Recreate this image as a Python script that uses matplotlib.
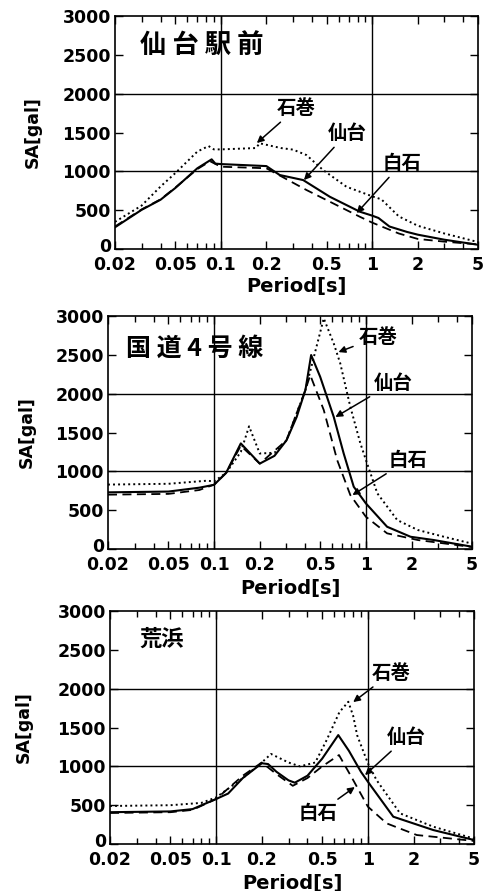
import numpy as np
import matplotlib
matplotlib.use("Agg")
import matplotlib.pyplot as plt
import matplotlib.transforms as mtransforms
from matplotlib.ticker import FixedLocator, FixedFormatter, LogLocator, NullFormatter

plt.rcParams['font.family'] = ['DejaVu Sans']
JP = ['Noto Sans CJK JP', 'DejaVu Sans']

# ---- データ (応答スペクトル, 読み取り値) ----
# 仙台駅前
p1_sendai_T = [0.02, 0.03, 0.04, 0.05, 0.07, 0.087, 0.092, 0.1, 0.2, 0.245, 0.35, 0.525, 0.828, 1.0, 1.1, 1.3, 1.7, 2.0, 3.0, 5.0]
p1_sendai_SA = [280, 505, 635, 785, 1040, 1155, 1100, 1094, 1068, 953, 888, 673, 481, 430, 400, 290, 220, 185, 120, 55]
p1_shiroishi_T = [0.02, 0.03, 0.04, 0.05, 0.07, 0.085, 0.1, 0.2, 0.368, 0.611, 0.828, 1.0, 1.5, 2.0, 3.0, 5.0]
p1_shiroishi_SA = [290, 510, 640, 790, 1030, 1130, 1060, 1040, 760, 545, 416, 340, 200, 130, 95, 60]
p1_ishinomaki_T = [0.02, 0.03, 0.04, 0.05, 0.07, 0.083, 0.09, 0.1, 0.17, 0.181, 0.25, 0.3, 0.368, 0.474, 0.676, 1.02, 1.15, 1.5, 2.0, 3.0, 5.0]
p1_ishinomaki_SA = [350, 560, 805, 977, 1255, 1326, 1283, 1283, 1300, 1361, 1300, 1280, 1210, 1017, 802, 673, 640, 420, 300, 200, 90]

# 国道4号線
p2_sendai_T = [0.02, 0.05, 0.08, 0.1, 0.12, 0.15, 0.2, 0.25, 0.3, 0.35, 0.4, 0.436, 0.5, 0.614, 0.714, 0.832, 1.0, 1.38, 1.97, 2.8, 5.0]
p2_sendai_SA = [730, 740, 790, 827, 980, 1360, 1100, 1200, 1400, 1700, 2050, 2498, 2218, 1703, 1232, 802, 588, 287, 158, 116, 30]
p2_shiroishi_T = [0.02, 0.05, 0.08, 0.1, 0.12, 0.15, 0.2, 0.3, 0.4, 0.43, 0.528, 0.647, 0.79, 1.0, 1.38, 2.2, 5.0]
p2_shiroishi_SA = [700, 710, 760, 830, 980, 1330, 1100, 1400, 2050, 2240, 1790, 1146, 695, 416, 202, 116, 26]
p2_ishinomaki_T = [0.02, 0.05, 0.09, 0.1, 0.12, 0.15, 0.17, 0.2, 0.25, 0.3, 0.4, 0.528, 0.614, 0.678, 0.79, 0.92, 1.0, 1.19, 1.61, 2.2, 3.27, 5.0]
p2_ishinomaki_SA = [830, 840, 880, 870, 980, 1250, 1580, 1230, 1240, 1400, 2050, 2970, 2648, 2391, 1832, 1361, 1150, 717, 373, 245, 158, 70]

# 荒浜
p3_sendai_T = [0.02, 0.05, 0.07, 0.1, 0.12, 0.15, 0.2, 0.22, 0.25, 0.3, 0.33, 0.4, 0.5, 0.638, 0.75, 0.9, 1.0, 1.47, 2.7, 5.0]
p3_sendai_SA = [410, 420, 450, 580, 650, 850, 1040, 1030, 930, 820, 790, 880, 1100, 1403, 1200, 930, 802, 352, 180, 52]
p3_shiroishi_T = [0.02, 0.05, 0.07, 0.1, 0.15, 0.2, 0.25, 0.32, 0.4, 0.5, 0.645, 0.8, 1.0, 1.33, 2.1, 5.0]
p3_shiroishi_SA = [400, 410, 440, 580, 880, 1050, 900, 750, 850, 1000, 1146, 824, 481, 266, 116, 40]
p3_ishinomaki_T = [0.02, 0.05, 0.08, 0.1, 0.15, 0.2, 0.23, 0.3, 0.357, 0.45, 0.535, 0.65, 0.743, 0.8, 0.85, 1.0, 1.14, 1.63, 2.7, 5.0]
p3_ishinomaki_SA = [490, 500, 530, 600, 850, 1050, 1160, 1050, 1000, 1050, 1339, 1700, 1832, 1650, 1400, 1040, 824, 395, 223, 70]

xticks = [0.02, 0.05, 0.1, 0.2, 0.5, 1, 2, 5]
xtick_labels = ['0.02', '0.05', '0.1', '0.2', '0.5', '1', '2', '5']
yticks = [0, 500, 1000, 1500, 2000, 2500, 3000]

panels = [
    dict(pos=[0.2376, 0.7205, 0.750, 0.2615], title='仙 台 駅 前', tpos=(0.07, 0.875), tsize=19,
         ylab=-0.201, xlab=-0.118,
         series=[(p1_sendai_T, p1_sendai_SA), (p1_shiroishi_T, p1_shiroishi_SA), (p1_ishinomaki_T, p1_ishinomaki_SA)],
         notes=[('石巻', (0.173, 1365), (0.235, 1815), 'left'),
                ('仙台', (0.354, 888), (0.509, 1494), 'left'),
                ('白石', (0.79, 463), (1.17, 1107), 'left')]),
    dict(pos=[0.2231, 0.3838, 0.752, 0.2615], title='国 道 4 号 線', tpos=(0.05, 0.86), tsize=18,
         ylab=-0.198, xlab=-0.127,
         series=[(p2_sendai_T, p2_sendai_SA), (p2_shiroishi_T, p2_shiroishi_SA), (p2_ishinomaki_T, p2_ishinomaki_SA)],
         notes=[('石巻', (0.66, 2536), (0.894, 2730), 'left'),
                ('仙台', (0.63, 1700), (1.12, 2137), 'left'),
                ('白石', (0.816, 695), (1.41, 1146), 'left')]),
    dict(pos=[0.2273, 0.0527, 0.752, 0.2615], title='荒浜', tpos=(0.08, 0.88), tsize=16,
         ylab=-0.212, xlab=-0.127,
         series=[(p3_sendai_T, p3_sendai_SA), (p3_shiroishi_T, p3_shiroishi_SA), (p3_ishinomaki_T, p3_ishinomaki_SA)],
         notes=[('石巻', (0.80, 1828), (1.06, 2202), 'left'),
                ('仙台', (0.957, 888), (1.34, 1378), 'left'),
                ('白石', (0.82, 734), (0.635, 399), 'right')]),
]

styles = [dict(linestyle='-', linewidth=1.5),
          dict(linestyle=(0, (5, 3)), linewidth=1.3),
          dict(linestyle=(0, (1, 1.6)), linewidth=1.4)]

fig = plt.figure(figsize=(4.84, 8.91), dpi=100)
nudge_up = mtransforms.ScaledTranslation(0, 3 / 72, fig.dpi_scale_trans)

for p in panels:
    ax = fig.add_axes(p['pos'])
    for (T, SA), st in zip(p['series'], styles):
        ax.plot(T, SA, color='black', **st)

    ax.set_xscale('log')
    ax.set_xlim(0.02, 5)
    ax.set_ylim(0, 3000)
    ax.xaxis.set_major_locator(FixedLocator(xticks))
    ax.xaxis.set_major_formatter(FixedFormatter(xtick_labels))
    ax.xaxis.set_minor_locator(LogLocator(base=10, subs=np.arange(2, 10)))
    ax.xaxis.set_minor_formatter(NullFormatter())
    ax.set_yticks(yticks)

    ax.axvline(0.1, color='black', linewidth=1.0)
    ax.axvline(1.0, color='black', linewidth=1.0)
    ax.axhline(1000, color='black', linewidth=1.0)
    ax.axhline(2000, color='black', linewidth=1.0)

    ax.tick_params(which='both', direction='in', top=True, right=True, width=1.0)
    ax.tick_params(which='major', length=6, labelsize=12.5)
    ax.tick_params(axis='x', which='major', pad=5)
    ax.tick_params(axis='y', which='major', pad=3)
    ax.tick_params(which='minor', length=4)
    for lbl in ax.get_xticklabels() + ax.get_yticklabels():
        lbl.set_fontweight('bold')
    # 0 のラベルを少し上へ (0.02 と重ならないように)
    ylbl0 = ax.yaxis.get_major_ticks()[0].label1
    ylbl0.set_transform(ylbl0.get_transform() + nudge_up)
    for s in ax.spines.values():
        s.set_linewidth(1.2)

    ax.set_xlabel('Period[s]', fontsize=14, fontweight='bold')
    ax.set_ylabel('SA[gal]', fontsize=12.5, fontweight='bold')
    ax.xaxis.set_label_coords(0.5, p['xlab'])
    ax.yaxis.set_label_coords(p['ylab'], 0.5)

    ax.text(p['tpos'][0], p['tpos'][1], p['title'], transform=ax.transAxes,
            fontsize=p['tsize'], fontweight='bold', family=JP, va='center', ha='left')

    for label, head, txt, ha in p['notes']:
        ax.annotate(label, xy=head, xytext=txt, fontsize=14, fontweight='bold',
                    family=JP, ha=ha, va='center',
                    arrowprops=dict(arrowstyle='-|>', color='black', lw=1.1,
                                    mutation_scale=10, shrinkA=2, shrinkB=0))

fig.savefig('out.png', dpi=100)
